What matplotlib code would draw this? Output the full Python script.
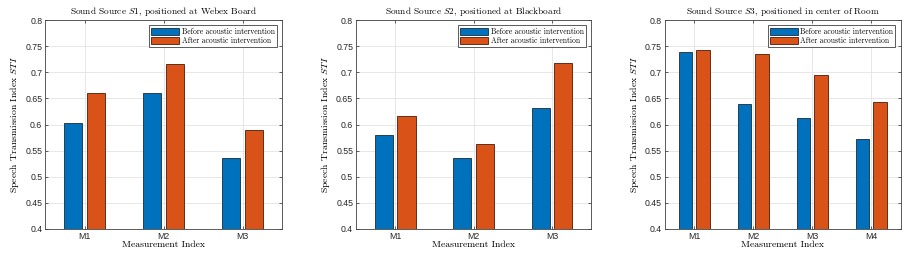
import numpy as np
import matplotlib
matplotlib.use("Agg")
import matplotlib.pyplot as plt

titles = [r"Sound Source $S1$, positioned at Webex Board",
          r"Sound Source $S2$, positioned at Blackboard",
          r"Sound Source $S3$, positioned in center of Room"]
labels = [["M1", "M2", "M3"],
          ["M1", "M2", "M3"],
          ["M1", "M2", "M3", "M4"]]
before = [[0.602, 0.660, 0.536],
          [0.580, 0.535, 0.631],
          [0.739, 0.640, 0.612, 0.573]]
after = [[0.661, 0.715, 0.589],
         [0.617, 0.563, 0.718],
         [0.743, 0.735, 0.694, 0.644]]

BLUE = "#0072BD"
ORANGE = "#D95319"
SERIF = "cmr10"

plt.rcParams["mathtext.fontset"] = "cm"
plt.rcParams["axes.unicode_minus"] = False

fig = plt.figure(figsize=(9.08, 2.57), dpi=100)
lefts = [0.0496, 0.392, 0.732]
widths = [0.261, 0.259, 0.260]

for i in range(3):
    ax = fig.add_axes([lefts[i], 0.109, widths[i], 0.813])
    x = np.arange(1, len(labels[i]) + 1)
    ax.bar(x - 0.145, before[i], width=0.23, color=BLUE,
           edgecolor="#1a2a3a", linewidth=0.6, zorder=3,
           label="Before acoustic intervention")
    ax.bar(x + 0.145, after[i], width=0.23, color=ORANGE,
           edgecolor="#4a1a08", linewidth=0.6, zorder=3,
           label="After acoustic intervention")
    ax.set_xlim(0.5, len(labels[i]) + 0.5)
    ax.set_ylim(0.4, 0.8)
    ax.set_xticks(x)
    ax.set_xticklabels(labels[i], family="Liberation Sans", fontsize=6.3)
    ax.set_yticks(np.arange(0.4, 0.81, 0.05))
    ax.set_yticklabels(["0.4", "0.45", "0.5", "0.55", "0.6", "0.65",
                        "0.7", "0.75", "0.8"],
                       family="Liberation Sans", fontsize=6.3)
    ax.grid(True, color="#e3e3e3", linewidth=0.6, zorder=0)
    ax.tick_params(direction="in", length=2.5, width=0.5, colors="#262626",
                   pad=2, top=True, right=True)
    for s in ax.spines.values():
        s.set_color("#404040")
        s.set_linewidth(0.6)
    ax.set_title(titles[i], family=SERIF, fontsize=6.7, pad=4)
    ax.set_xlabel("Measurement Index", family=SERIF, fontsize=7, labelpad=0)
    ax.set_ylabel(r"Speech Transmission Index $STI$", family=SERIF,
                  fontsize=7, labelpad=3)
    leg = ax.legend(loc="upper right", prop={"family": SERIF, "size": 5.5},
                    handlelength=3.7, handleheight=1.1, handletextpad=0.3,
                    labelspacing=0.08, borderpad=0.28, borderaxespad=0.7,
                    fancybox=False, framealpha=1, edgecolor="#404040")
    leg.get_frame().set_linewidth(0.6)

fig.savefig("out.png", dpi=100)
